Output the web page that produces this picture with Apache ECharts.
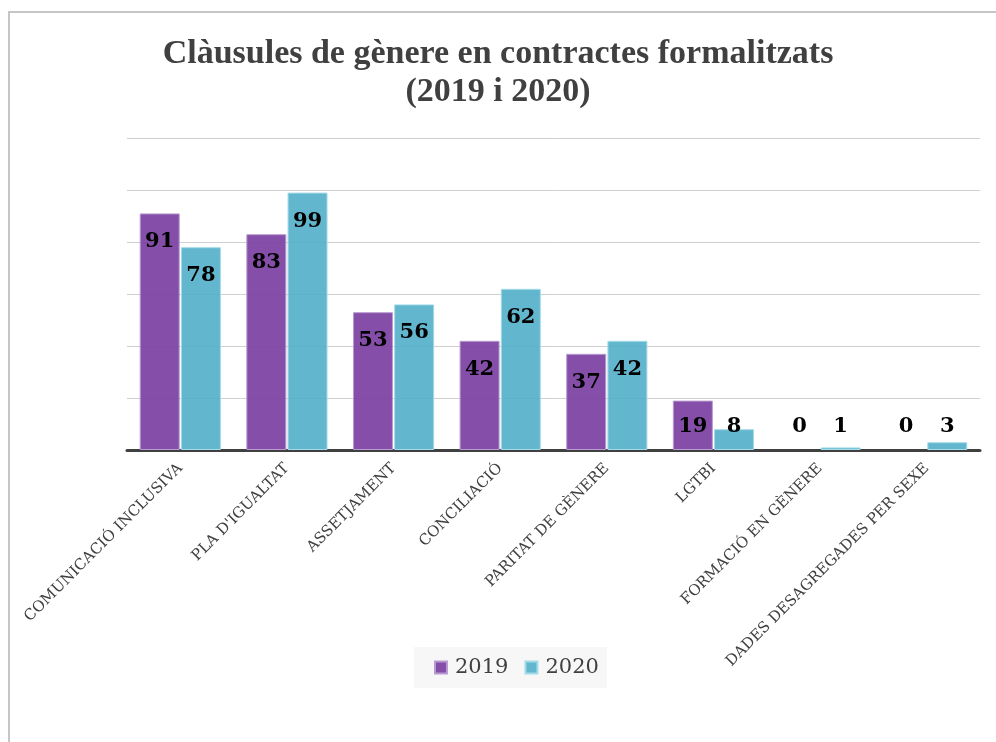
<!DOCTYPE html>
<html>
<head>
<meta charset="utf-8">
<script src="https://cdn.jsdelivr.net/npm/echarts@6/dist/echarts.min.js"></script>
<style>
  html, body { margin: 0; padding: 0; background: #fff; }
  #frame { position: absolute; left: 8px; top: 11px; width: 988px; height: 731px;
           border-left: 2px solid #c6c6c6; border-top: 2px solid #c6c6c6; }
  #clausules { position: absolute; left: 0; top: 0; width: 996px; height: 742px; }
</style>
</head>
<body>
<div id="frame"></div>
<div id="clausules"></div>
<script>
   var categories = ['COMUNICACIÓ INCLUSIVA', "PLA D'IGUALTAT", 'ASSETJAMENT', 'CONCILIACIÓ',
       'PARITAT DE GÈNERE', 'LGTBI', 'FORMACIÓ EN GÈNERE', 'DADES DESAGREGADES PER SEXE'];
   var valori_2019 = [91, 83, 53, 42, 37, 19, 0, 0];
   var valori_2020 = [78, 99, 56, 62, 42, 8, 1, 3];

   var clausules = echarts.init(document.getElementById('clausules'));

   // etichette dentro in alto, quelle piccole appoggiate in basso
   function build(values) {
       return values.map(function(v) {
           if (v < 20) {
               return {
                   value: v,
                   label: { position: 'insideBottom', distance: 13 },
                   itemStyle: v === 0 ? { borderWidth: 0 } : {}
               };
           }
           return v;
       });
   }

   var etichetta = {
       show: true,
       position: 'insideTop',
       distance: 18,
       color: '#000',
       fontFamily: 'DejaVu Serif',
       fontWeight: 'bold',
       fontSize: 21
   };

   option_clausules = {
       title: {
           text: 'Clàusules de gènere en contractes formalitzats\n(2019 i 2020)',
           left: 'center',
           top: 30,
           textStyle: {
               color: '#404040',
               fontFamily: 'Liberation Serif',
               fontWeight: 'bold',
               fontSize: 34,
               lineHeight: 38
           }
       },
       legend: {
           bottom: 54,
           left: 511,
           icon: 'rect',
           itemWidth: 12,
           itemHeight: 12,
           itemGap: 16,
           padding: [10, 8, 10, 20],
           backgroundColor: '#f7f7f7',
           textStyle: {
               color: '#404040',
               fontFamily: 'DejaVu Serif',
               fontSize: 21,
               padding: [0, 0, 0, 3]
           }
       },
       grid: {
           left: 127,
           right: 16,
           top: 138,
           bottom: 292
       },
       xAxis: {
           type: 'category',
           data: categories,
           axisLine: {
               show: true,
               lineStyle: { color: '#404040', width: 3 }
           },
           axisTick: { show: false },
           axisLabel: {
               rotate: 45,
               interval: 0,
               margin: 16,
               color: '#404040',
               fontFamily: 'DejaVu Serif',
               fontSize: 15
           }
       },
       yAxis: {
           type: 'value',
           min: 0,
           max: 120,
           interval: 20,
           axisLabel: { show: false },
           axisLine: { show: false },
           axisTick: { show: false },
           splitLine: {
               lineStyle: { color: '#cfcfcf', width: 1 }
           }
       },
       series: [{
           name: '2019',
           type: 'bar',
           barWidth: 40,
           barGap: '3%',
           data: build(valori_2019),
           label: etichetta,
           itemStyle: {
               color: 'rgba(124, 66, 163, 0.93)',
               borderColor: '#b89bd0',
               borderWidth: 1
           }
       }, {
           name: '2020',
           type: 'bar',
           barWidth: 40,
           data: build(valori_2020),
           label: etichetta,
           itemStyle: {
               color: 'rgba(85, 176, 202, 0.92)',
               borderColor: '#a4dbe8',
               borderWidth: 1
           }
       }]
   };
   clausules.setOption(option_clausules);
   // centra il box della legenda come nell'originale (416..604)
   var legendModel = clausules.getModel().getComponent('legend');
   var lv = clausules.getViewOfComponentModel(legendModel);
   var box = lv.group.getBoundingRect();
   clausules.setOption({ legend: { left: Math.round(510 - box.width / 2) } });
   window.onresize = function() {
       clausules.resize();
   };
</script>
</body>
</html>
